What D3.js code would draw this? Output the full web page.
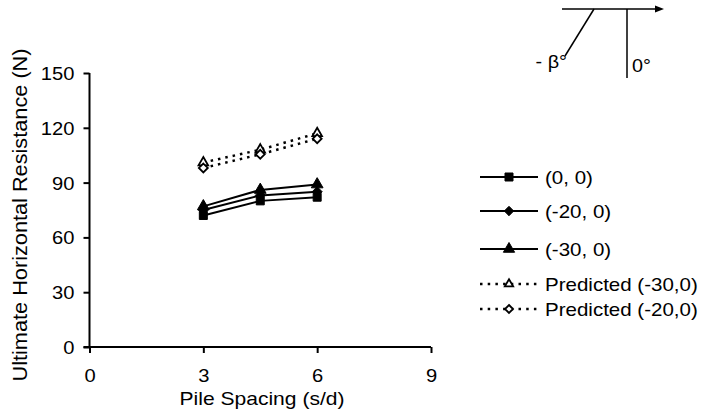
<!DOCTYPE html>
<html>
<head>
<meta charset="utf-8">
<script src="https://cdn.jsdelivr.net/npm/d3@7"></script>
<style>
  html, body { margin: 0; padding: 0; background: #fff; }
  svg { display: block; font-family: "Liberation Sans", Arial, sans-serif; }
</style>
</head>
<body>
<svg id="chart" width="705" height="415"></svg>
<script>
// Pile spacing ratios (s/d)
const spacing = [3, 4.5, 6];

// Measured ultimate horizontal resistance (N)
const res_0_0   = [72, 80, 82];
const res_20_0  = [75, 83, 85];
const res_30_0  = [77, 86, 89];

// Predicted resistance (N)
const pred_30_0 = [101, 108, 117];
const pred_20_0 = [98, 105.5, 114];

const xTicks = [0, 3, 6, 9];
const yTicks = [0, 30, 60, 90, 120, 150];

const seriesNames = ["(0, 0)", "(-20, 0)", "(-30, 0)", "Predicted (-30,0)", "Predicted (-20,0)"];

// Diamond drawn as a square turned by 45 degrees
const squareDiamond = {
  draw(context, size) {
    const r = Math.sqrt(size / 2);
    context.moveTo(0, -r);
    context.lineTo(r, 0);
    context.lineTo(0, r);
    context.lineTo(-r, 0);
    context.closePath();
  }
};

const series = [
  { name: seriesNames[0], values: res_0_0,   symbol: d3.symbolSquare,   size: 64, legendSize: 64, fill: "#000", dashed: false },
  { name: seriesNames[1], values: res_20_0,  symbol: squareDiamond,     size: 50, legendSize: 44, fill: "#000", dashed: false },
  { name: seriesNames[2], values: res_30_0,  symbol: d3.symbolTriangle, size: 60, legendSize: 55, fill: "#000", dashed: false },
  { name: seriesNames[3], values: pred_30_0, symbol: d3.symbolTriangle, size: 40, legendSize: 30, fill: "#fff", dashed: true },
  { name: seriesNames[4], values: pred_20_0, symbol: squareDiamond,     size: 40, legendSize: 32, fill: "#fff", dashed: true }
];

const svg = d3.select("#chart");
const x = d3.scaleLinear().domain([0, 9]).range([89.5, 431]);
const y = d3.scaleLinear().domain([0, 150]).range([347, 73]);

const SX = 1.12; // horizontal glyph stretch used for all labels

function stretchText(sel, px, py, anchor, size, sx) {
  sel.attr("x", 0).attr("y", 0).attr("dy", null)
    .attr("text-anchor", anchor)
    .attr("font-size", size)
    .attr("fill", "#000")
    .attr("transform", `translate(${px},${py}) scale(${sx},1)`);
}

// Y axis
const yAxis = svg.append("g")
  .attr("transform", `translate(${x(0)},0)`)
  .call(d3.axisLeft(y).tickValues(yTicks).tickSize(6).tickFormat(d3.format("d")));
yAxis.select(".domain").attr("stroke", "#000").attr("stroke-width", 2)
  .attr("d", `M0,${y(150)}V${y(0)}`);
yAxis.selectAll(".tick line").attr("stroke", "#000").attr("stroke-width", 2);
yAxis.selectAll(".tick text").each(function () {
  stretchText(d3.select(this), -15, 6.5, "end", 18, SX);
});

// X axis
const xAxis = svg.append("g")
  .attr("transform", `translate(0,${y(0)})`)
  .call(d3.axisBottom(x).tickValues(xTicks).tickSize(6).tickFormat(d3.format("d")));
xAxis.select(".domain").attr("stroke", "#000").attr("stroke-width", 2)
  .attr("d", `M${x(0) - 6},0H${x(9)}`);
xAxis.selectAll(".tick line").attr("stroke", "#000").attr("stroke-width", 2);
xAxis.selectAll(".tick text").each(function () {
  stretchText(d3.select(this), 0, 35, "middle", 18, SX);
});

// Axis titles
svg.append("text").text("Pile Spacing (s/d)")
  .call(stretchText, 262, 405, "middle", 18, 1.17);

svg.append("text").text("Ultimate Horizontal Resistance (N)")
  .attr("text-anchor", "middle")
  .attr("font-size", 20.5)
  .attr("transform", `translate(27,215) rotate(-90) scale(1.06,1)`);

// Data lines and markers
const line = d3.line()
  .x((d, i) => x(spacing[i]))
  .y(d => y(d));

const plot = svg.append("g");
series.forEach(s => {
  plot.append("path")
    .datum(s.values)
    .attr("d", line)
    .attr("fill", "none")
    .attr("stroke", "#000")
    .attr("stroke-width", s.dashed ? 2.5 : 2)
    .attr("stroke-dasharray", s.dashed ? "2.5,5" : null);
});
series.forEach(s => {
  plot.selectAll(null)
    .data(s.values)
    .enter().append("path")
    .attr("d", d3.symbol().type(s.symbol).size(s.size))
    .attr("transform", (d, i) => `translate(${x(spacing[i])},${y(d)})`)
    .attr("fill", s.fill)
    .attr("stroke", "#000")
    .attr("stroke-width", s.dashed ? 1.8 : 1);
});

// Legend
const legendRows = [177, 211, 249, 284, 309];
const legend = svg.append("g");
series.forEach((s, i) => {
  const ly = legendRows[i];
  legend.append("line")
    .attr("x1", 480).attr("x2", 538)
    .attr("y1", ly).attr("y2", ly)
    .attr("stroke", "#000")
    .attr("stroke-width", s.dashed ? 2.5 : 2)
    .attr("stroke-dasharray", s.dashed ? "2.5,5.2" : null);
  legend.append("path")
    .attr("d", d3.symbol().type(s.symbol).size(s.legendSize))
    .attr("transform", `translate(509,${ly})`)
    .attr("fill", s.fill)
    .attr("stroke", "#000")
    .attr("stroke-width", s.dashed ? 1.8 : 1);
  legend.append("text").text(s.name)
    .call(stretchText, 545, ly + 7, "start", 18, 1.14);
});

// Inclination sketch: ground line with arrow, vertical (0°) and battered (-β°) piles
const sketch = svg.append("g");
sketch.append("line").attr("x1", 562).attr("y1", 9).attr("x2", 657).attr("y2", 9)
  .attr("stroke", "#000").attr("stroke-width", 1.5);
sketch.append("path").attr("d", "M664,9L655,5.5L655,12.5Z").attr("fill", "#000");
sketch.append("line").attr("x1", 627).attr("y1", 9).attr("x2", 627).attr("y2", 78)
  .attr("stroke", "#000").attr("stroke-width", 1.5);
sketch.append("line").attr("x1", 594).attr("y1", 9).attr("x2", 565).attr("y2", 56)
  .attr("stroke", "#000").attr("stroke-width", 1.5);
sketch.append("text").text("- β°")
  .call(stretchText, 567, 68, "end", 18, 1.1);
sketch.append("text").text("0°")
  .call(stretchText, 632, 72, "start", 18, 1.1);
</script>
</body>
</html>
